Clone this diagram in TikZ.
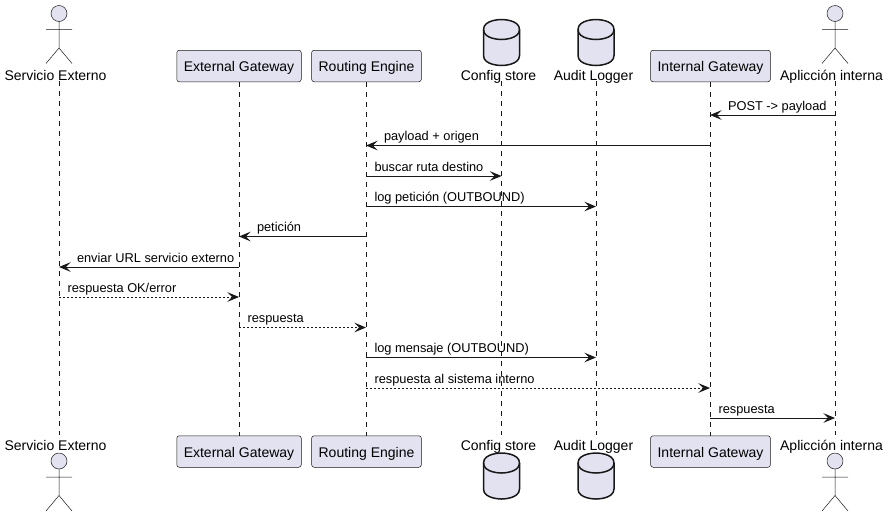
\documentclass[tikz,border=0pt]{standalone}
\usepackage{fontspec}
\setmainfont{Liberation Sans}
\usetikzlibrary{arrows.meta}
\definecolor{partfill}{HTML}{E2E2F0}
\definecolor{partline}{HTML}{181818}

\begin{document}
\begin{tikzpicture}[
            x = 1pt, y = -1pt,
            box/.style = {draw=partline, fill=partfill, line width=0.5pt,
                    rounded corners=2.5pt, inner xsep=7pt, inner ysep=0pt,
                    minimum height=31.5pt, text height=12pt, text depth=1pt,
                    font=\fontsize{14}{16}\selectfont},
            toplabel/.style = {anchor=base, inner sep=0pt, text height=10pt, text depth=1pt,
                    font=\fontsize{14}{16}\selectfont},
            botlabel/.style = {anchor=base, inner sep=0pt, text height=15pt, text depth=1pt,
                    font=\fontsize{14}{16}\selectfont},
            lifeline/.style = {draw=partline, line width=0.5pt, dash pattern=on 5pt off 5pt},
            msg/.style = {draw=partline, line width=1pt,
                    -{Stealth[length=11.5pt, width=9.5pt, inset=4.5pt]}},
            reply/.style = {msg, dash pattern=on 2pt off 2pt},
            rlabel/.style = {pos=0, anchor=base west, inner sep=0pt, xshift=8pt, yshift=5pt,
                    font=\fontsize{12.8}{14}\selectfont},
            llabel/.style = {pos=1, anchor=base west, inner sep=0pt, xshift=17.5pt, yshift=5pt,
                    font=\fontsize{12.8}{14}\selectfont},
            actor/.pic = {
                    \draw [draw=partline, fill=partfill, line width=0.5pt] (0,-24.5) circle (8);
                    \draw [draw=partline, line width=0.5pt]
                    (0,-16.5) -- (0,10)
                    (-13,-8.5) -- (13,-8.5)
                    (-13,25.5) -- (0,10) -- (13,25.5);},
            store/.pic = {
                    \draw [draw=partline, fill=partfill, line width=1.5pt]
                    (-18,-13) .. controls (-18,-23) and (0,-23) .. (0,-23)
                    .. controls (0,-23) and (18,-23) .. (18,-13)
                    -- (18,13)
                    .. controls (18,23) and (0,23) .. (0,23)
                    .. controls (0,23) and (-18,23) .. (-18,13) -- cycle;
                    \draw [draw=partline, line width=1.5pt]
                    (-18,-13) .. controls (-18,-3) and (0,-3) .. (0,-3)
                    .. controls (0,-3) and (18,-3) .. (18,-13);}]

        \useasboundingbox (0,0) rectangle (890,517);

        % Top row
        \pic at (59,38) {actor};
        \node [toplabel] (svcT) at (55.5,80)  {Servicio Externo};
        \node [box]      (extT) at (239,66)   {External Gateway};
        \node [box]      (rteT) at (366.5,66) {Routing Engine};
        \pic at (501.5,42.5) {store};
        \node [toplabel] (cfgT) at (498.5,80) {Config store};
        \pic at (596,42.5) {store};
        \node [toplabel] (audT) at (593.5,80) {Audit Logger};
        \node [box]      (intT) at (710.5,66) {Internal Gateway};
        \pic at (835,38) {actor};
        \node [toplabel] (appT) at (831.5,80) {Aplicción interna};

        % Bottom row
        \node [botlabel] (svcB) at (55.5,450) {Servicio Externo};
        \pic at (59,485.5) {actor};
        \node [box]      (extB) at (239,451.5)   {External Gateway};
        \node [box]      (rteB) at (366.5,451.5) {Routing Engine};
        \node [botlabel] (cfgB) at (498.5,450) {Config store};
        \pic at (501.5,476) {store};
        \node [botlabel] (audB) at (593.5,450) {Audit Logger};
        \pic at (596,476) {store};
        \node [box]      (intB) at (710.5,451.5) {Internal Gateway};
        \node [botlabel] (appB) at (831.5,450) {Aplicción interna};
        \pic at (835,485.5) {actor};

        % Lifelines
        \coordinate (svcL) at (59,0);
        \coordinate (extL) at (239,0);
        \coordinate (rteL) at (366,0);
        \coordinate (cfgL) at (501.5,0);
        \coordinate (audL) at (596,0);
        \coordinate (intL) at (710,0);
        \coordinate (appL) at (835,0);
        \draw [lifeline] (svcL |- svcT.south) -- (svcL |- svcB.north);
        \draw [lifeline] (extL |- extT.south) -- (extL |- extB.north);
        \draw [lifeline] (rteL |- rteT.south) -- (rteL |- rteB.north);
        \draw [lifeline] (cfgL |- cfgT.south) -- (cfgL |- cfgB.north);
        \draw [lifeline] (audL |- audT.south) -- (audL |- audB.north);
        \draw [lifeline] (intL |- intT.south) -- (intL |- intB.north);
        \draw [lifeline] (appL |- appT.south) -- (appL |- appB.north);

        % Messages
        \coordinate (m1)  at (0,115);
        \coordinate (m2)  at (0,145.5);
        \coordinate (m3)  at (0,176);
        \coordinate (m4)  at (0,206.5);
        \coordinate (m5)  at (0,236.5);
        \coordinate (m6)  at (0,267);
        \coordinate (m7)  at (0,297);
        \coordinate (m8)  at (0,327.5);
        \coordinate (m9)  at (0,357.5);
        \coordinate (m10) at (0,388);
        \coordinate (m11) at (0,418);
        \draw [msg]   (appL |- m1) -- node [llabel] {POST -> payload} (intL |- m1);
        \draw [msg]   (intL |- m2) -- node [llabel] {payload + origen} (rteL |- m2);
        \draw [msg]   (rteL |- m3) -- node [rlabel] {buscar ruta destino} (cfgL |- m3);
        \draw [msg]   (rteL |- m4) -- node [rlabel] {log petición (OUTBOUND)} (audL |- m4);
        \draw [msg]   (rteL |- m5) -- node [llabel] {petición} (extL |- m5);
        \draw [msg]   (extL |- m6) -- node [llabel] {enviar URL servicio externo} (svcL |- m6);
        \draw [reply] (svcL |- m7) -- node [rlabel] {respuesta OK/error} (extL |- m7);
        \draw [reply] (extL |- m8) -- node [rlabel] {respuesta} (rteL |- m8);
        \draw [msg]   (rteL |- m9) -- node [rlabel] {log mensaje (OUTBOUND)} (audL |- m9);
        \draw [reply] (rteL |- m10) -- node [rlabel] {respuesta al sistema interno} (intL |- m10);
        \draw [msg]   (intL |- m11) -- node [rlabel] {respuesta} (appL |- m11);
\end{tikzpicture}
\end{document}
